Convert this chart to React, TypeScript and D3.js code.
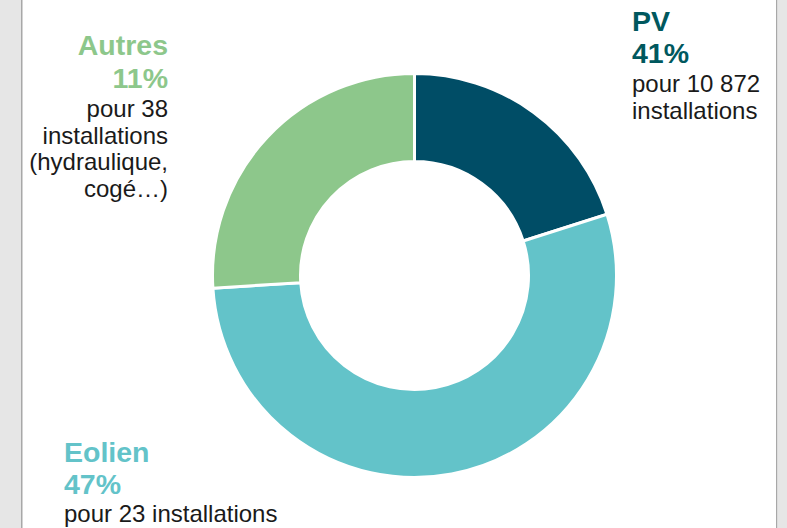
import React from "react";
import * as d3 from "d3";

const categories = ["PV", "Eolien", "Autres"];
const sliceShares = [20.1, 53.9, 26.0];
const percentLabels = ["41%", "47%", "11%"];
const detailLines = [
  ["pour 10 872", "installations"],
  ["pour 23 installations"],
  ["pour 38", "installations", "(hydraulique,", "cogé…)"],
];
const sliceColors = ["#004d66", "#63c3c9", "#8dc78b"];
const labelColors = ["#00585e", "#63c3c9", "#8dc78b"];

const W = 787;
const H = 528;
const cx = 414.5;
const cy = 275.5;
const outerR = 202;
const innerR = 114;

export default function App() {
  const pie = d3
    .pie<number>()
    .sort(null)
    .value((d) => d)
    .startAngle(0)
    .endAngle(2 * Math.PI);
  const arcs = pie(sliceShares);
  const arc = d3.arc<d3.PieArcDatum<number>>().innerRadius(innerR).outerRadius(outerR);

  const font = "'Liberation Sans', Arial, sans-serif";

  const layouts = [
    { x: 632, anchor: "start", titleY: 31, pctY: 63, detailY: [92, 119] },
    { x: 64, anchor: "start", titleY: 462, pctY: 494, detailY: [522] },
    { x: 168, anchor: "end", titleY: 55, pctY: 88, detailY: [117, 144, 170, 197] },
  ];

  return (
    <svg
      width={W}
      height={H}
      style={{ position: "absolute", left: 0, top: 0, background: "#ffffff" }}
    >
      <rect x={0} y={0} width={W} height={H} fill="#ffffff" />
      <rect x={0} y={0} width={21} height={H} fill="#e6e6e6" />
      <rect x={21} y={0} width={1.5} height={H} fill="#a8a8a8" />
      <rect x={776} y={0} width={1.5} height={H} fill="#a8a8a8" />
      <rect x={777.5} y={0} width={W - 777.5} height={H} fill="#e6e6e6" />

      <g transform={`translate(${cx},${cy})`}>
        {arcs.map((a, i) => (
          <path key={categories[i]} d={arc(a) || ""} fill={sliceColors[i]} stroke="#ffffff" strokeWidth={3} />
        ))}
      </g>

      {categories.map((c, i) => {
        const L = layouts[i];
        return (
          <g key={c} fontFamily={font} textAnchor={L.anchor as any}>
            <text x={L.x} y={L.titleY} fontSize={28.5} fontWeight="bold" fill={labelColors[i]}>
              {c}
            </text>
            <text x={L.x} y={L.pctY} fontSize={28.5} fontWeight="bold" fill={labelColors[i]}>
              {percentLabels[i]}
            </text>
            {detailLines[i].map((t, j) => (
              <text key={j} x={L.x} y={L.detailY[j]} fontSize={24} fill="#1a1a1a">
                {t}
              </text>
            ))}
          </g>
        );
      })}
    </svg>
  );
}
